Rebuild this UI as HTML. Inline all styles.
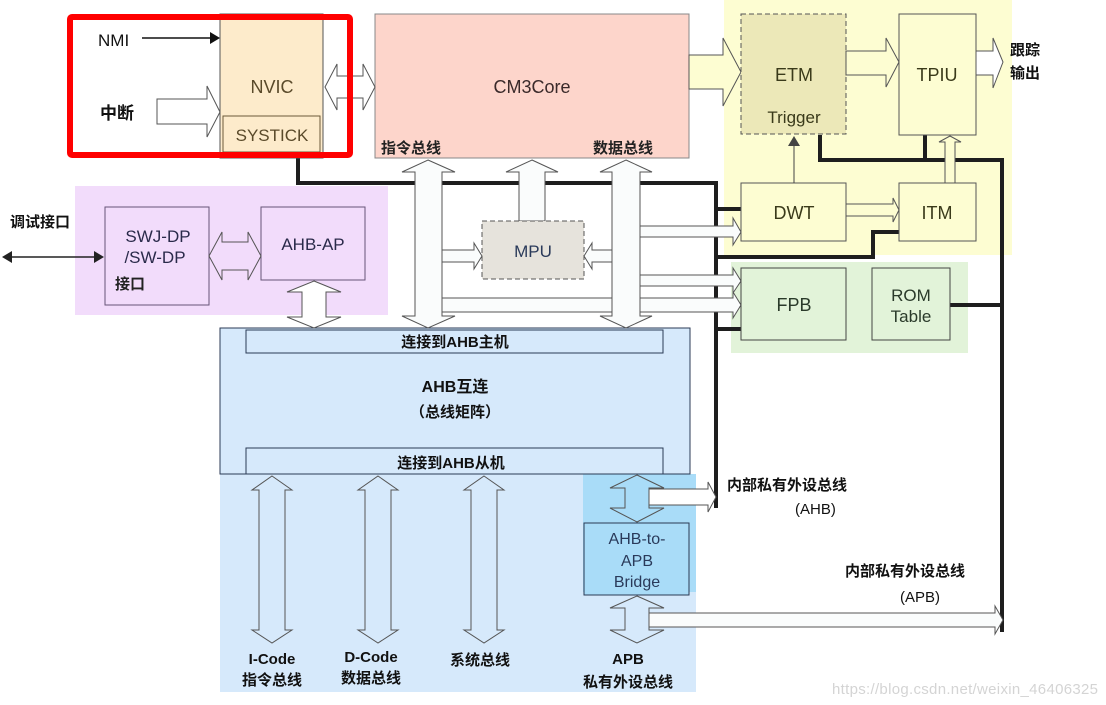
<!DOCTYPE html>
<html><head><meta charset="utf-8"><style>
html,body{margin:0;padding:0;background:#fff;}
svg{display:block;}
text{font-family:"Liberation Sans","Noto Sans CJK SC",sans-serif;}
.b{font-weight:bold;}
</style></head><body>
<svg width="1106" height="705" viewBox="0 0 1106 705" xmlns="http://www.w3.org/2000/svg">
<rect x="724" y="0" width="288" height="255" fill="#fdfdd2"/>
<rect x="731" y="262" width="237" height="91" fill="#e2f3d9"/>
<rect x="75" y="186" width="313" height="129" fill="#f2dcfb"/>
<rect x="220" y="474" width="476" height="218" fill="#d6e9fb"/>
<rect x="583" y="474" width="113" height="118" fill="#a9dcf8"/>
<rect x="220" y="328" width="470" height="146" fill="#d6e9fb" stroke="#2b3a55" stroke-width="1"/>
<rect x="246" y="330" width="417" height="23" fill="none" stroke="#2b3a55"/>
<rect x="246" y="448" width="417" height="26" fill="none" stroke="#2b3a55"/>

<g fill="none" stroke="#1e1e1e" stroke-width="4">
<polyline points="298,158 298,183 716,183 716,508"/>
<line x1="716" y1="209" x2="741" y2="209"/>
<polyline points="716,257 873,257 873,232 899,232"/>
<line x1="716" y1="329" x2="741" y2="329"/>
<polyline points="820,135 820,160 1002,160 1002,632"/>
<line x1="925" y1="135" x2="925" y2="160"/>
<line x1="950" y1="305" x2="1002" y2="305"/>
</g>

<rect x="220" y="14" width="103" height="144" fill="#fdebcb" stroke="#555" stroke-width="1"/>
<rect x="223" y="116" width="97" height="36" fill="#fdebcb" stroke="#6b5a3a"/>
<text x="272" y="93" font-size="18" text-anchor="middle" fill="#5a4a2a">NVIC</text>
<text x="272" y="141" font-size="17" text-anchor="middle" fill="#5a4a2a">SYSTICK</text>
<text x="98" y="46" font-size="17" fill="#111">NMI</text>
<line x1="142" y1="38" x2="210" y2="38" stroke="#111" stroke-width="1.5"/>
<polygon points="210,32 220,38 210,44" fill="#111"/>
<text x="100" y="119" font-size="17" class="b" fill="#111">中断</text>
<polygon points="157,99 207,99 207,86 220,112 207,137 207,124 157,124" fill="#fff" stroke="#555"/>

<rect x="375" y="14" width="314" height="144" fill="#fdd5cb" stroke="#888"/>
<text x="532" y="93" font-size="18" text-anchor="middle" fill="#3a2a2a">CM3Core</text>
<text x="381" y="153" font-size="15" class="b" fill="#222">指令总线</text>
<text x="593" y="153" font-size="15" class="b" fill="#222">数据总线</text>
<polygon points="325,87 337,64 337,76 363,76 363,64 375,87 363,110 363,98 337,98 337,110" fill="#fff" stroke="#555"/>

<polygon points="442,298 733,298 733,292 741,305 733,318 733,312 442,312" fill="#fafcfc" stroke="#555"/>
<polygon points="428,160 455,172 442,172 442,316 455,316 428,328 402,316 415,316 415,172 402,172" fill="#fafcfc" stroke="#555"/>
<polygon points="532,160 558,172 545,172 545,221 519,221 519,172 506,172" fill="#fafcfc" stroke="#555"/>
<polygon points="626,160 652,172 640,172 640,316 652,316 626,328 600,316 612,316 612,172 600,172" fill="#fafcfc" stroke="#555"/>
<rect x="482" y="221" width="102" height="58" fill="#e6e3dc" stroke="#555" stroke-dasharray="5,3"/>
<text x="533" y="257" font-size="17" text-anchor="middle" fill="#2a3a5a">MPU</text>
<polygon points="442,250 474,250 474,243 482,256 474,269 474,262 442,262" fill="#fafcfc" stroke="#555"/>
<polygon points="612,250 592,250 592,243 584,256 592,269 592,262 612,262" fill="#fafcfc" stroke="#555"/>
<polygon points="640,226 733,226 733,218 741,232 733,245 733,237 640,237" fill="#fafcfc" stroke="#555"/>
<polygon points="640,275 733,275 733,268 741,281 733,293 733,286 640,286" fill="#fafcfc" stroke="#555"/>

<polygon points="689,55 723,55 723,38 741,72 723,106 723,89 689,89" fill="#fdfdd2" stroke="#555"/>
<rect x="741" y="14" width="105" height="120" fill="#ece8b8" stroke="#555" stroke-dasharray="5,3"/>
<text x="794" y="81" font-size="18" text-anchor="middle" fill="#3a3a1a">ETM</text>
<text x="794" y="123" font-size="17" text-anchor="middle" fill="#3a3a1a">Trigger</text>
<rect x="899" y="14" width="77" height="121" fill="#fdfdd2" stroke="#555"/>
<text x="937" y="81" font-size="18" text-anchor="middle" fill="#3a3a1a">TPIU</text>
<polygon points="846,51 886,51 886,38 899,62 886,87 886,75 846,75" fill="#fdfdd2" stroke="#555"/>
<polygon points="976,51 993,51 993,38 1003,62 993,88 993,75 976,75" fill="#fff" stroke="#555"/>
<text x="1010" y="55" font-size="15" class="b" fill="#111">跟踪</text>
<text x="1010" y="78" font-size="15" class="b" fill="#111">输出</text>
<rect x="741" y="183" width="105" height="58" fill="#fdfdd2" stroke="#555"/>
<text x="794" y="219" font-size="18" text-anchor="middle" fill="#3a3a1a">DWT</text>
<rect x="899" y="183" width="77" height="58" fill="#fdfdd2" stroke="#555"/>
<text x="937" y="219" font-size="18" text-anchor="middle" fill="#3a3a1a">ITM</text>
<line x1="794" y1="183" x2="794" y2="145" stroke="#444"/>
<polygon points="788,146 794,136 800,146" fill="#444"/>
<polygon points="846,204 893,204 893,198 899,210 893,222 893,216 846,216" fill="#fdfdd2" stroke="#555"/>
<polygon points="945,183 945,142 939,142 950,136 961,142 955,142 955,183" fill="#fdfdd2" stroke="#555"/>

<rect x="741" y="268" width="105" height="72" fill="#e2f3d9" stroke="#444"/>
<text x="794" y="311" font-size="18" text-anchor="middle" fill="#2a3a2a">FPB</text>
<rect x="872" y="268" width="78" height="72" fill="#e2f3d9" stroke="#444"/>
<text x="911" y="301" font-size="17" text-anchor="middle" fill="#2a3a2a">ROM</text>
<text x="911" y="322" font-size="17" text-anchor="middle" fill="#2a3a2a">Table</text>

<rect x="105" y="207" width="104" height="98" fill="#f2dcfb" stroke="#665577"/>
<text x="158" y="242" font-size="17" text-anchor="middle" fill="#2a2a4a">SWJ-DP</text>
<text x="155" y="263" font-size="17" text-anchor="middle" fill="#2a2a4a">/SW-DP</text>
<text x="115" y="289" font-size="15" class="b" fill="#222">接口</text>
<rect x="261" y="207" width="104" height="73" fill="#f2dcfb" stroke="#665577"/>
<text x="313" y="250" font-size="17" text-anchor="middle" fill="#2a2a4a">AHB-AP</text>
<polygon points="209,256 222,232 222,242 248,242 248,232 261,256 248,280 248,270 222,270 222,280" fill="#f2dcfb" stroke="#555"/>
<polygon points="314,281 341,292 326,292 326,317 341,317 314,328 287,317 302,317 302,292 287,292" fill="#fff" stroke="#555"/>
<text x="10" y="227" font-size="15" class="b" fill="#111">调试接口</text>
<line x1="12" y1="257" x2="96" y2="257" stroke="#222" stroke-width="1.5"/>
<polygon points="2,257 12,251 12,263" fill="#222"/>
<polygon points="104,257 94,251 94,263" fill="#222"/>

<text x="455" y="347" font-size="15" class="b" text-anchor="middle" fill="#111">连接到AHB主机</text>
<text x="455" y="392" font-size="16" class="b" text-anchor="middle" fill="#111">AHB互连</text>
<text x="455" y="417" font-size="15" class="b" text-anchor="middle" fill="#111">（总线矩阵）</text>
<text x="451" y="468" font-size="15" class="b" text-anchor="middle" fill="#111">连接到AHB从机</text>

<g fill="#d6e9fb" stroke="#555">
<polygon points="272,476 292,490 285,490 285,630 292,630 272,643 252,630 259,630 259,490 252,490"/>
<polygon points="378,476 398,490 391,490 391,630 398,630 378,643 358,630 365,630 365,490 358,490"/>
<polygon points="484,476 504,490 497,490 497,630 504,630 484,643 464,630 471,630 471,490 464,490"/>
<polygon points="637,475 664,488 649,488 649,508 664,508 637,522 610,508 625,508 625,488 610,488" fill="#a9dcf8"/>
<polygon points="637,596 664,608 649,608 649,630 664,630 637,643 610,630 625,630 625,608 610,608"/>
</g>
<polygon points="649,489 708,489 708,482 716,497 708,512 708,505 649,505" fill="#fff" stroke="#555"/>
<polygon points="649,613 995,613 995,606 1003,620 995,634 995,627 649,627" fill="#fafcfc" stroke="#555"/>
<rect x="584" y="523" width="105" height="72" fill="#a9dcf8" stroke="#2b3a55"/>
<text x="637" y="544" font-size="16" text-anchor="middle" fill="#2a3a5a">AHB-to-</text>
<text x="637" y="566" font-size="16" text-anchor="middle" fill="#2a3a5a">APB</text>
<text x="637" y="587" font-size="16" text-anchor="middle" fill="#2a3a5a">Bridge</text>

<text x="272" y="664" font-size="15" class="b" text-anchor="middle" fill="#111">I-Code</text>
<text x="272" y="685" font-size="15" class="b" text-anchor="middle" fill="#111">指令总线</text>
<text x="371" y="662" font-size="15" class="b" text-anchor="middle" fill="#111">D-Code</text>
<text x="371" y="683" font-size="15" class="b" text-anchor="middle" fill="#111">数据总线</text>
<text x="480" y="665" font-size="15" class="b" text-anchor="middle" fill="#111">系统总线</text>
<text x="628" y="664" font-size="15" class="b" text-anchor="middle" fill="#111">APB</text>
<text x="628" y="687" font-size="15" class="b" text-anchor="middle" fill="#111">私有外设总线</text>

<text x="727" y="490" font-size="15" class="b" fill="#111">内部私有外设总线</text>
<text x="795" y="514" font-size="15" fill="#111">(AHB)</text>
<text x="845" y="576" font-size="15" class="b" fill="#111">内部私有外设总线</text>
<text x="900" y="602" font-size="15" fill="#111">(APB)</text>
<text x="832" y="694" font-size="15" fill="#d4d4d4" textLength="266">https://blog.csdn.net/weixin_46406325</text>

<rect x="70" y="17" width="280" height="138" fill="none" stroke="#ff0000" stroke-width="6" rx="2"/>
</svg>
</body></html>
